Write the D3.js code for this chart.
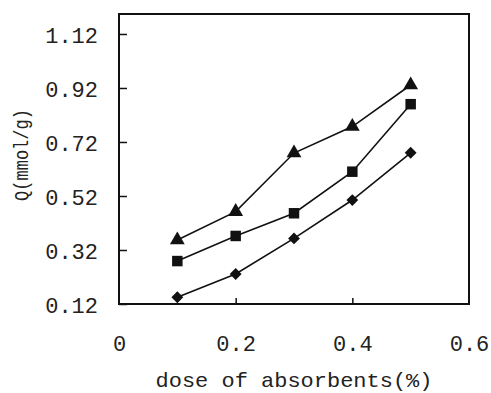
<!DOCTYPE html>
<html><head><meta charset="utf-8">
<script src="https://d3js.org/d3.v7.min.js"></script>
<style>body{margin:0;background:#fff}svg{display:block}text{font-family:"Liberation Mono","DejaVu Sans Mono",monospace;fill:#222}</style>
</head><body><svg id="c" width="491" height="393"></svg>
<script>
const doses = [0.1, 0.2, 0.3, 0.4, 0.5];
const triangleSeries = [0.357, 0.462, 0.679, 0.777, 0.931];
const squareSeries = [0.279, 0.372, 0.456, 0.610, 0.860];
const diamondSeries = [0.145, 0.231, 0.363, 0.505, 0.680];
const yTicks = [0.12, 0.32, 0.52, 0.72, 0.92, 1.12];
const xTicks = [0, 0.2, 0.4, 0.6];
const xLabel = "dose of absorbents(%)";
const yLabel = "Q(mmol/g)";

const svg = d3.select("#c");
const L = 119, R = 469, T = 14, B = 304;
const x = d3.scaleLinear().domain([0, 0.6]).range([L, R]);
const y = d3.scaleLinear().domain([0.12, 1.194]).range([B, T]);

svg.append("rect").attr("x", L).attr("y", T).attr("width", R - L).attr("height", B - T)
  .attr("fill", "none").attr("stroke", "#111").attr("stroke-width", 2);

const yAxis = svg.append("g").attr("transform", `translate(${L},0)`)
  .call(d3.axisRight(y).tickValues(yTicks).tickSize(8).tickFormat(d3.format(".2f")));
yAxis.select(".domain").remove();
yAxis.selectAll("line").attr("stroke", "#111").attr("stroke-width", 1.5);
yAxis.selectAll("text").attr("x", -21).attr("text-anchor", "end").attr("dy", "0.38em")
  .style("font-size", "22px").attr("fill", "#222");

const xAxis = svg.append("g").attr("transform", `translate(0,${B})`)
  .call(d3.axisTop(x).tickValues(xTicks).tickSize(6).tickFormat(d => d === 0 ? "0" : d3.format(".1f")(d)));
xAxis.select(".domain").remove();
xAxis.selectAll("line").attr("stroke", "#111").attr("stroke-width", 1.5)
  .attr("display", d => (d === 0 || d === 0.6) ? "none" : null);
xAxis.selectAll("text").attr("y", 39).attr("dy", "0.38em")
  .style("font-size", "22px").attr("fill", "#222");

svg.append("text").attr("x", 294).attr("y", 380).attr("dy", "0.35em").attr("text-anchor", "middle")
  .style("font-size", "21px").attr("textLength", 277).attr("lengthAdjust", "spacingAndGlyphs").text(xLabel);
svg.append("text").attr("transform", "translate(21,155) rotate(-90)").attr("dy", "0.35em")
  .attr("text-anchor", "middle").style("font-size", "21px")
  .attr("textLength", 92).attr("lengthAdjust", "spacingAndGlyphs").text(yLabel);

const line = d3.line().x((d, i) => x(doses[i])).y(d => y(d));
const series = [
  {vals: triangleSeries, sym: d3.symbolTriangle, size: 95, rot: 0},
  {vals: squareSeries, sym: d3.symbolSquare, size: 110, rot: 0},
  {vals: diamondSeries, sym: d3.symbolSquare, size: 70, rot: 45}
];
series.forEach(s => {
  svg.append("path").attr("d", line(s.vals)).attr("fill", "none").attr("stroke", "#111").attr("stroke-width", 1.6);
  svg.selectAll(null).data(s.vals).enter().append("path")
    .attr("d", d3.symbol().type(s.sym).size(s.size))
    .attr("transform", (d, i) => `translate(${x(doses[i])},${y(d)}) rotate(${s.rot})`)
    .attr("fill", "#111");
});
</script></body></html>
